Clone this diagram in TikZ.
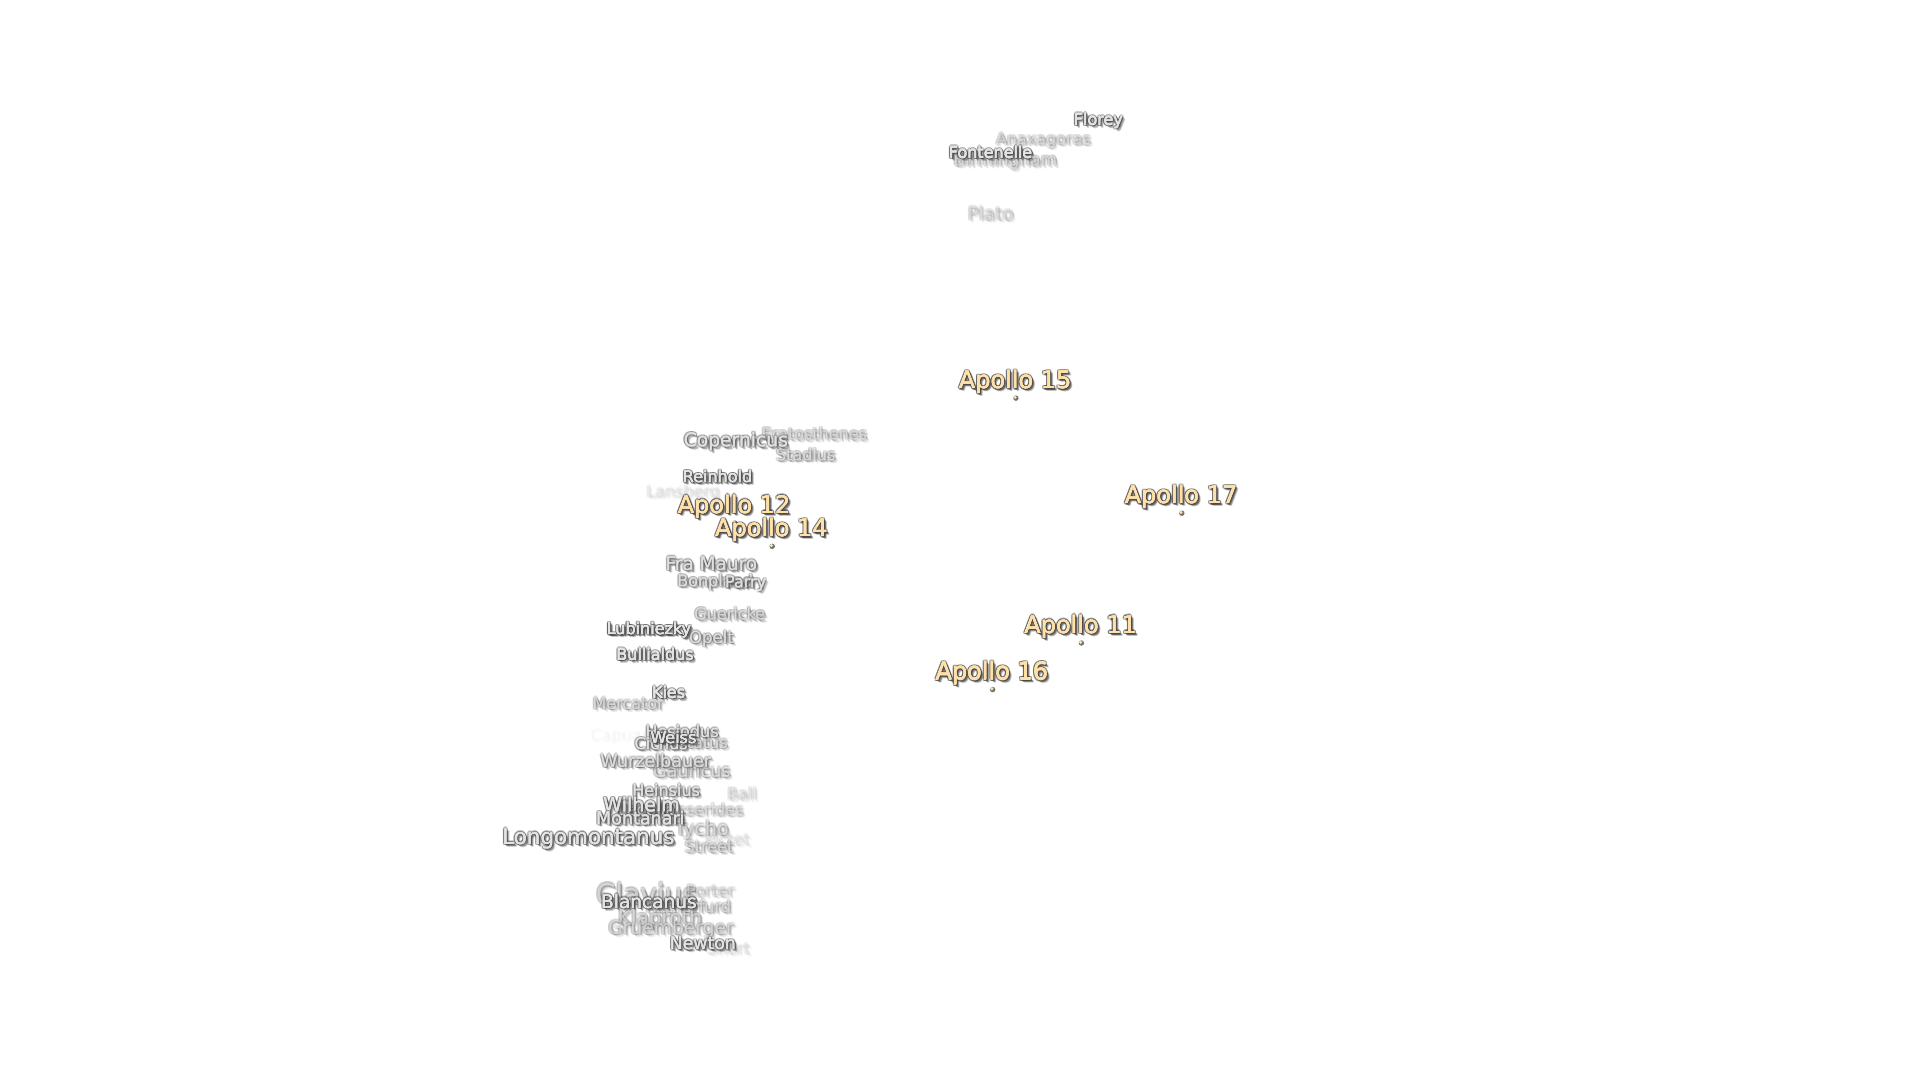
\documentclass[tikz,border=0pt]{standalone}
\usepackage{fontspec}
\setmainfont{DejaVu Sans}
\definecolor{cream}{HTML}{FFE0A8}
\definecolor{pale}{HTML}{E4E4E4}
\colorlet{shade}{black!72}
\tikzset{
  x=1.2245pt,y=-1.2245pt,
  lab/.style={inner sep=0pt,outer sep=0pt,anchor=base},
  moondot/.style={circle,inner sep=0pt,minimum size=3.4pt,fill=cream},
  dotshade/.style={circle,inner sep=0pt,minimum size=5.4pt,fill=black!55},
}
% id, x, y, size, opacity, text, fill colour
\newcommand\lblx[7]{%
  \begin{scope}[shift={(#2,#3)},yshift={-0.32*#4 pt}]
  \foreach \k/\dx/\dy/\op in {
    a/3.2/3.2/0.14,
    b/2.5/3.0/0.20,
    c/3.0/2.2/0.20,
    d/2.2/2.2/0.38,
    e/1.6/1.6/0.55,
    f/-1.1/-1.1/0.48,
    g/1.1/-1.1/0.48,
    h/-1.1/1.1/0.48,
    i/-1.5/0/0.48,
    j/0/-1.5/0.48,
    l/1.5/0/0.48,
    m/0/1.5/0.48,
    k/1.1/1.1/0.70}{
    \pgfmathsetmacro\alphaval{\op*#5}
    \node[lab,name=#1-\k,xshift=\dx pt,yshift=-\dy pt,text=shade,text opacity=\alphaval] at (0,0)
      {\fontsize{#4}{#4}\selectfont #6};
  }
  \foreach \k/\dx/\dy in {n/-0.25/0,o/0.25/0,p/0/-0.25,q/0/0.25}{
    \node[lab,name=#1-\k,xshift=\dx pt,yshift=-\dy pt,text=#7,text opacity=#5] at (0,0)
      {\fontsize{#4}{#4}\selectfont #6};
  }
  \node[lab,name=#1,text=#7,text opacity=#5] at (0,0) {\fontsize{#4}{#4}\selectfont #6};
  \end{scope}
}
\newcommand\lbl[6]{\lblx{#1}{#2}{#3}{#4}{#5}{#6}{pale}}
\newcommand\apollo[4]{%
  \lblx{#1}{#2}{#3}{24}{1}{#4}{cream}%
  \node[dotshade,name=#1-ds,xshift=0.8pt,yshift=-0.8pt] at (#2,{#3+13.5}) {};
  \node[moondot,name=#1-d] at (#2,{#3+13.5}) {};
}
\begin{document}
\begin{tikzpicture}
\useasboundingbox (0,0) rectangle (1568,882);
\fill[white] (0,0) rectangle (1568,882);
\lbl{capuanus}{515}{601}{16}{0.005}{Capuanus}
\lbl{lansberg}{558}{402}{16}{0.05}{Lansberg}
\lbl{pictet}{594}{686}{16}{0.06}{Pictet}
\lbl{short}{595}{775}{16}{0.06}{Short}
\lbl{ball}{606}{649}{16}{0.09}{Ball}
\lbl{plato}{809}{175}{18.5}{0.12}{Plato}
\lbl{anaxagoras}{852}{114}{16}{0.17}{Anaxagoras}
\lbl{birmingham}{821}{131}{17}{0.20}{Birmingham}
\lbl{eratosthenes}{665}{355}{16}{0.22}{Eratosthenes}
\lbl{stadius}{658}{372}{16}{0.28}{Stadius}
\lbl{mercator}{513}{575}{16}{0.25}{Mercator}
\lbl{guericke}{596}{502}{16}{0.33}{Guericke}
\lbl{opelt}{581}{521}{16.5}{0.38}{Opelt}
\lbl{pitatus}{572}{607}{16}{0.28}{Pitatus}
\lbl{gauricus}{565}{630}{17.5}{0.26}{Gauricus}
\lbl{sasserides}{572}{662}{16}{0.17}{Sasserides}
\lbl{tycho}{573}{677}{19}{0.22}{Tycho}
\lbl{street}{579}{692}{16}{0.22}{Street}
\lbl{clavius}{528}{731}{28}{0.28}{Clavius}
\lbl{porter}{580}{728}{16}{0.13}{Porter}
\lbl{rutherfurd}{562}{741}{16}{0.22}{Rutherfurd}
\lbl{klaproth}{539}{750}{20}{0.22}{Klaproth}
\lbl{gruemberger}{548}{758}{18.7}{0.22}{Gruemberger}
\lbl{bonpland}{584}{475}{16}{0.42}{Bonpland}
\lbl{parry}{609}{476}{16}{0.50}{Parry}
\lbl{framauro}{581}{461}{18.5}{0.48}{Fra Mauro}
\lbl{copernicus}{601}{360}{18.7}{0.58}{Copernicus}
\lbl{hesiodus}{557}{598}{16}{0.50}{Hesiodus}
\lbl{cichus}{540}{608}{16}{0.50}{Cichus}
\lbl{weiss}{550}{603}{16}{0.85}{Weiss}
\lbl{wurzelbauer}{535.5}{622}{17.5}{0.42}{Wurzelbauer}
\lbl{heinsius}{544}{646}{16}{0.52}{Heinsius}
\lbl{lagalla}{528}{662}{16}{0.55}{Lagalla}
\lbl{wilhelm}{524}{658}{19}{0.72}{Wilhelm}
\lbl{montanari}{523}{669}{17.5}{0.65}{Montanari}
\lbl{longomontanus}{480.5}{684}{21.4}{0.70}{Longomontanus}
\lbl{blancanus}{530}{737}{18.5}{0.80}{Blancanus}
\lbl{newton}{574}{771}{17.3}{0.68}{Newton}
\lbl{kies}{546}{566}{16}{0.88}{Kies}
\lbl{bullialdus}{535}{535}{16}{0.82}{Bullialdus}
\lbl{lubiniezky}{530}{514}{16}{1}{Lubiniezky}
\lbl{reinhold}{586}{390}{16}{0.85}{Reinhold}
\lbl{fontenelle}{809}{125}{16}{0.92}{Fontenelle}
\lbl{florey}{897}{98}{16}{0.85}{Florey}
\apollo{apollo12}{599.5}{413}{Apollo 12}
\apollo{apollo14}{630}{432}{Apollo 14}
\apollo{apollo15}{829}{311}{Apollo 15}
\apollo{apollo17}{964.5}{405}{Apollo 17}
\apollo{apollo11}{882.5}{511}{Apollo 11}
\apollo{apollo16}{810}{549}{Apollo 16}
\end{tikzpicture}
\end{document}
